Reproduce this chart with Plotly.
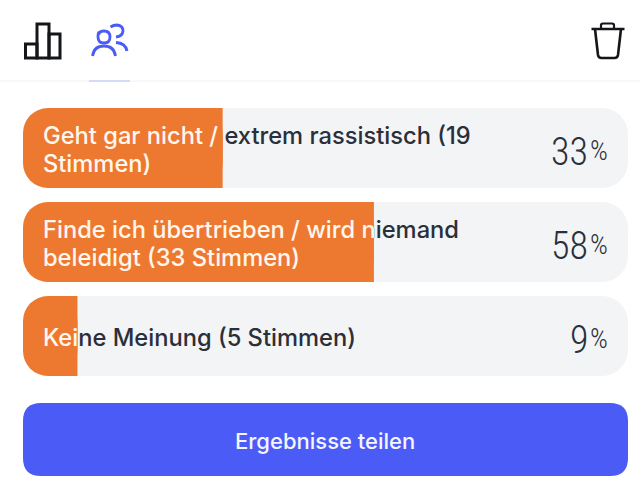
import plotly.graph_objects as go

# Poll results
options = [
    ["Geht gar nicht / extrem rassistisch ({}", "Stimmen)"],
    ["Finde ich übertrieben / wird niemand", "beleidigt ({} Stimmen)"],
    ["Keine Meinung ({} Stimmen)"],
]
votes = [19, 33, 5]
shares = [33, 58, 9]
button_label = "Ergebnisse teilen"

W, H = 640, 501
LEFT, RIGHT, TOP, BOTTOM = 23, 12, 101, 118
ROW_PX = 94
ORANGE, TRACK, INK, BLUE = "#ED7930", "#F3F4F6", "#2B2F3A", "#4A5CF5"
TEXT_FONT = "Inter"
NUM_FONT = "Roboto Condensed, Open Sans Condensed, DejaVu Sans Condensed, sans-serif"
TEXT_SIZE = 23.7
TEXT_X = 3.3        # label inset, in percent of the track
LINE_PITCH = 28 / ROW_PX
TEXT_DROP = 4 / ROW_PX
NO_EDGE = dict(width=0)

rows = list(range(len(shares)))
Y_RANGE = [len(rows) - 0.5, -0.5]

# One text point per printed line, centred as a block on its row
line_text, line_y, line_row = [], [], []
for row, lines, count in zip(rows, options, votes):
    for k, line in enumerate(lines):
        line_text.append(line.format(count))
        line_y.append(row + TEXT_DROP + (k - (len(lines) - 1) / 2) * LINE_PITCH)
        line_row.append(row)

fig = go.Figure()

# Grey tracks; a bar with a non-zero base is rounded at both ends
fig.add_bar(x=[-100] * 3, base=[100] * 3, y=rows, orientation="h",
            marker=dict(color=TRACK, cornerradius=26, line=NO_EDGE),
            xaxis="x", yaxis="y", hoverinfo="skip")

# Dark labels sit under the orange fill
fig.add_scatter(x=[TEXT_X] * len(line_text), y=line_y, mode="text", text=line_text,
                textposition="middle right",
                textfont=dict(family=TEXT_FONT, size=TEXT_SIZE, color=INK, weight=500),
                xaxis="x2", yaxis="y2", hoverinfo="skip")

# Orange fill: rounded bar, with a square bar squaring off its right half
fig.add_bar(x=[-s for s in shares], base=shares, y=rows, orientation="h",
            marker=dict(color=ORANGE, cornerradius=25, line=NO_EDGE),
            xaxis="x3", yaxis="y3", hoverinfo="skip")
fig.add_bar(x=[s / 2 for s in shares], base=[s / 2 for s in shares], y=rows, orientation="h",
            marker=dict(color=ORANGE, line=NO_EDGE), xaxis="x3", yaxis="y3", hoverinfo="skip")

layout_axes = {}
for i, (row, share) in enumerate(zip(rows, shares)):
    # White copy of each label, held inside its fill by an axis that ends at the share
    n = i + 4
    idx = [j for j, r in enumerate(line_row) if r == row]
    fig.add_scatter(x=[TEXT_X] * len(idx), y=[line_y[j] for j in idx], mode="text",
                    text=[line_text[j] for j in idx], textposition="middle right",
                    textfont=dict(family=TEXT_FONT, size=TEXT_SIZE, color="#FFF6EE", weight=500),
                    xaxis=f"x{n}", yaxis=f"y{n}", hoverinfo="skip", cliponaxis=True)
    layout_axes[f"xaxis{n}"] = dict(domain=[0, share / 100], range=[0, share], visible=False,
                                    anchor=f"y{n}", fixedrange=True)
    layout_axes[f"yaxis{n}"] = dict(domain=[0, 1], range=Y_RANGE, visible=False,
                                    anchor=f"x{n}", fixedrange=True)

for n in (2, 3):
    layout_axes[f"xaxis{n}"] = dict(domain=[0, 1], range=[0, 100], visible=False,
                                    anchor=f"y{n}", fixedrange=True)
    layout_axes[f"yaxis{n}"] = dict(domain=[0, 1], range=Y_RANGE, visible=False,
                                    anchor=f"x{n}", fixedrange=True)

plot_w = W - LEFT - RIGHT
plot_h = H - TOP - BOTTOM


def px(x):
    return (x - LEFT) / plot_w


def py(y):
    return 1 - (y - TOP) / plot_h


def path(points):
    """Build an SVG path from commands given in page pixels."""
    out = []
    for cmd, *vals in points:
        coords = [f"{px(vals[j]):.5f},{py(vals[j + 1]):.5f}" for j in range(0, len(vals), 2)]
        out.append(cmd + " ".join(coords))
    return " ".join(out)


def rounded(x0, y0, x1, y1, r):
    return path([("M", x0 + r, y0), ("L", x1 - r, y0), ("Q", x1, y0, x1, y0 + r),
                 ("L", x1, y1 - r), ("Q", x1, y1, x1 - r, y1), ("L", x0 + r, y1),
                 ("Q", x0, y1, x0, y1 - r), ("L", x0, y0 + r), ("Q", x0, y0, x0 + r, y0), ("Z",)])


def icon(d, color, width=2.8, fill=None):
    return dict(type="path", xref="paper", yref="paper", path=d,
                line=dict(color=color, width=width), fillcolor=fill or "rgba(0,0,0,0)", layer="above")


def ring(cx, cy, r):
    k = r * 0.72
    return [("M", cx - r, cy), ("Q", cx - r, cy - r, cx - k, cy - k), ("Q", cx - k + 1, cy - r, cx, cy - r),
            ("Q", cx + r, cy - r, cx + r, cy), ("Q", cx + r, cy + r, cx, cy + r),
            ("Q", cx - r, cy + r, cx - r, cy), ("Z",)]


BLACK = "#14161A"
shapes = [
    # Header rules
    dict(type="line", xref="paper", yref="paper", x0=px(0), x1=px(W), y0=py(81), y1=py(81),
         line=dict(color="#F6F6F8", width=1.5), layer="below"),
    dict(type="line", xref="paper", yref="paper", x0=px(89), x1=px(130), y0=py(81), y1=py(81),
         line=dict(color="#D5DAFB", width=2), layer="below"),
    # Chart tab icon
    icon(path([("M", 25.5, 44), ("L", 37, 44), ("L", 37, 58), ("L", 25.5, 58), ("Z",)]), BLACK, 3),
    icon(path([("M", 37, 24), ("L", 49, 24), ("L", 49, 58), ("L", 37, 58), ("Z",)]), BLACK, 3),
    icon(path([("M", 49, 34), ("L", 60, 34), ("L", 60, 58), ("L", 49, 58), ("Z",)]), BLACK, 3),
    # People tab icon
    icon(path(ring(104, 37, 6)), BLUE, 2.8),
    icon(path([("M", 92.5, 56), ("Q", 94, 46, 104, 46), ("Q", 114, 46, 115.5, 56)]), BLUE, 2.8),
    icon(path([("M", 110.5, 27), ("Q", 113.5, 25, 117, 25), ("Q", 123, 25.5, 123, 31),
               ("Q", 122.5, 36.5, 116, 37)]), BLUE, 2.8),
    icon(path([("M", 116, 42.5), ("Q", 125.5, 43, 127, 51)]), BLUE, 2.8),
    # Bin icon
    icon(path([("M", 591.5, 29), ("L", 624.5, 29)]), BLACK, 2.6),
    icon(path([("M", 601, 29), ("L", 601, 25), ("Q", 601, 23.5, 603, 23.5), ("L", 612, 23.5),
               ("Q", 614, 23.5, 614, 25), ("L", 614, 29)]), BLACK, 2.2),
    icon(path([("M", 595, 29), ("L", 598, 55), ("Q", 598.5, 58, 601.5, 58), ("L", 614.5, 58),
               ("Q", 617.5, 58, 618, 55), ("L", 621, 29)]), BLACK, 2.6),
    # Share button
    dict(type="path", xref="paper", yref="paper", path=rounded(23, 403, 628, 476, 18),
         fillcolor=BLUE, line=dict(width=0), layer="below"),
]

annotations = [
    dict(xref="paper", yref="paper", x=px(324.5), y=py(440.5), text=button_label, showarrow=False,
         xanchor="center", yanchor="middle",
         font=dict(family=TEXT_FONT, size=22, color="#F4F5FF", weight=500)),
]
for row, share in zip(rows, shares):
    annotations.append(dict(xref="x", yref="y", x=93.7, y=row, xanchor="right", yanchor="middle",
                            yshift=-4, text=str(share), showarrow=False,
                            font=dict(family=NUM_FONT, size=38, color=INK, weight=300)))
    annotations.append(dict(xref="x", yref="y", x=93.4, y=row, xanchor="left", yanchor="middle",
                            yshift=-2, text="%", showarrow=False,
                            font=dict(family=NUM_FONT, size=28, color=INK, weight=300)))

fig.update_layout(
    width=W, height=H, autosize=False,
    margin=dict(l=LEFT, r=RIGHT, t=TOP, b=BOTTOM),
    paper_bgcolor="white", plot_bgcolor="rgba(0,0,0,0)",
    barmode="overlay", bargap=14 / ROW_PX, showlegend=False,
    xaxis=dict(domain=[0, 1], range=[0, 100], visible=False, fixedrange=True),
    yaxis=dict(domain=[0, 1], range=Y_RANGE, visible=False, fixedrange=True),
    shapes=shapes, annotations=annotations,
    **layout_axes,
)

fig.write_html("out.html", config={"displayModeBar": False})
